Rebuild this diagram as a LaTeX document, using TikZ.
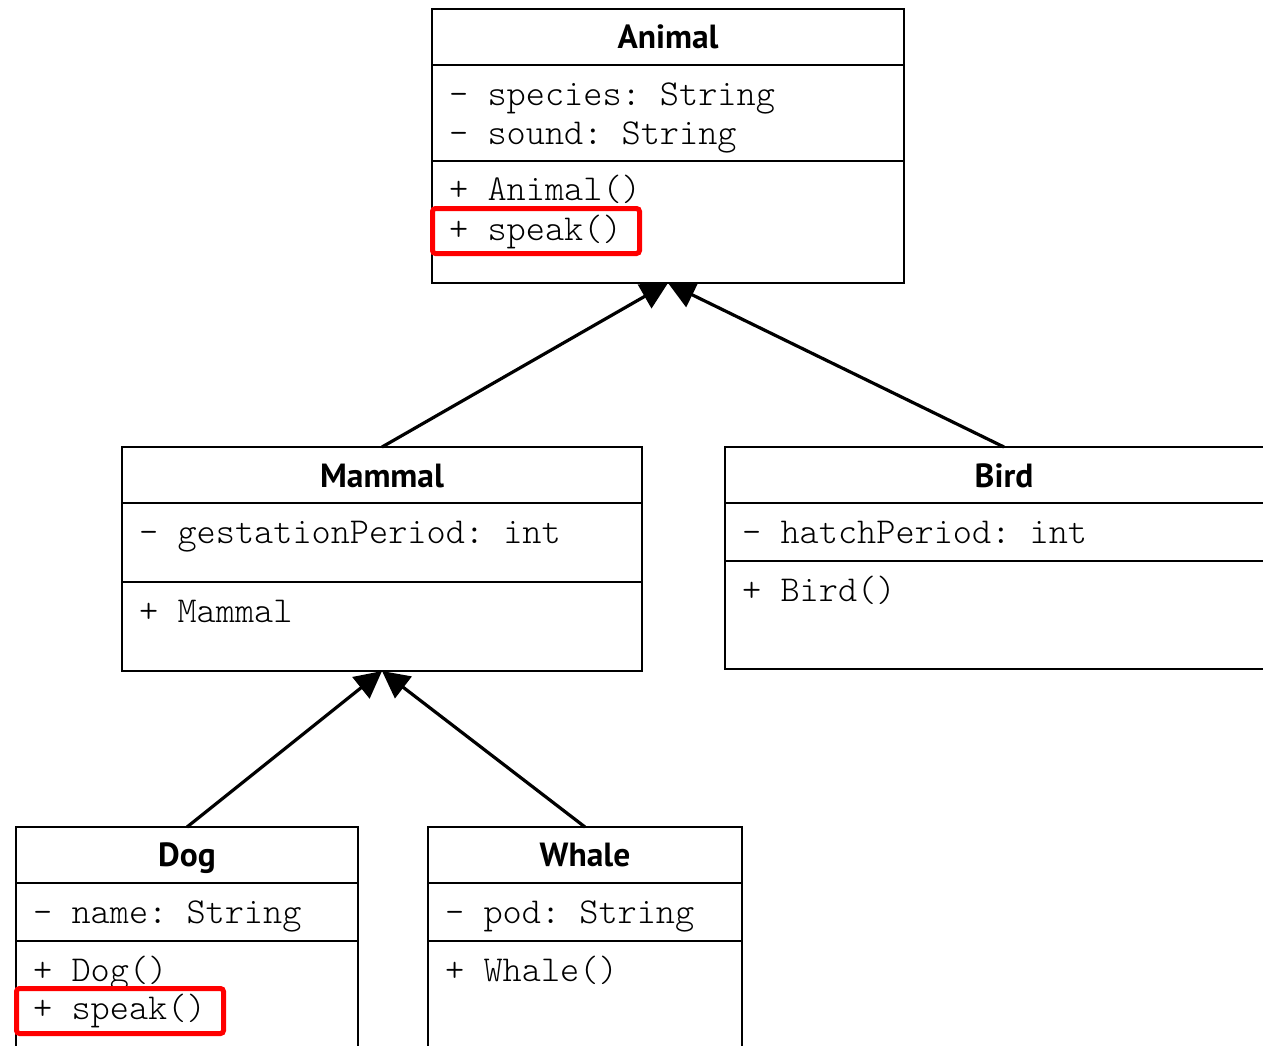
\documentclass[tikz,border=0pt]{standalone}
\usepackage{fontspec}
\setmonofont{Latin Modern Mono Light}
\newfontfamily\titlefont{PT Sans}
\usetikzlibrary{arrows.meta}
\tikzset{
  classbox/.style={draw=black, line width=2.6pt, fill=white, inner sep=0pt, outer sep=0pt, anchor=north west},
  divider/.style={line width=2.6pt},
  classtitle/.style={font=\titlefont\bfseries\fontsize{33.5}{40}\selectfont, anchor=base, inner sep=0pt},
  member/.style={font=\ttfamily\fontsize{36.5}{42}\selectfont, anchor=base west, inner sep=0pt},
  inherit/.style={line width=3.2pt, -{Triangle[length=27pt,width=27pt]}},
  highlight/.style={draw=red, line width=5pt, rounded corners=3pt, inner sep=0pt, outer sep=0pt, anchor=north west},
}
\begin{document}
\begin{tikzpicture}[x=1pt,y=-1pt]
\clip (0,0) rectangle (1263,1045);

% class boxes
\node[classbox, minimum width=472pt, minimum height=274pt] (animal) at (432,9) {};
\node[classbox, minimum width=520pt, minimum height=224pt] (mammal) at (122,447) {};
\node[classbox, minimum width=558pt, minimum height=222pt] (bird) at (725,447) {};
\node[classbox, minimum width=342pt, minimum height=300pt] (dog) at (16,827) {};
\node[classbox, minimum width=314pt, minimum height=300pt] (whale) at (428,827) {};

% compartment dividers
\draw[divider] (animal.west |- 0,65) -- (animal.east |- 0,65);
\draw[divider] (animal.west |- 0,161) -- (animal.east |- 0,161);
\draw[divider] (mammal.west |- 0,503) -- (mammal.east |- 0,503);
\draw[divider] (mammal.west |- 0,582) -- (mammal.east |- 0,582);
\draw[divider] (bird.west |- 0,503) -- (bird.east |- 0,503);
\draw[divider] (bird.west |- 0,561) -- (bird.east |- 0,561);
\draw[divider] (dog.west |- 0,883) -- (dog.east |- 0,883);
\draw[divider] (dog.west |- 0,941) -- (dog.east |- 0,941);
\draw[divider] (whale.west |- 0,883) -- (whale.east |- 0,883);
\draw[divider] (whale.west |- 0,941) -- (whale.east |- 0,941);

% class names
\node[classtitle] (animalname) at (668,48) {Animal};
\node[classtitle] (mammalname) at (382,487) {Mammal};
\node[classtitle] (birdname) at (1004,487) {Bird};
\node[classtitle] (dogname) at (187,866) {Dog};
\node[classtitle] (whalename) at (585,866) {Whale};

% members
\node[member] (a1) at (449,105) {- species: String};
\node[member] (a2) at (449,144) {- sound: String};
\node[member] (a3) at (449,200) {+ Animal()};
\node[member] (a4) at (449,240) {+ speak()};
\node[member] (m1) at (139,543) {- gestationPeriod: int};
\node[member] (m2) at (139,622) {+ Mammal};
\node[member] (b1) at (742,543) {- hatchPeriod: int};
\node[member] (b2) at (742,601) {+ Bird()};
\node[member] (d1) at (33,923) {- name: String};
\node[member] (d2) at (33,981) {+ Dog()};
\node[member] (d3) at (33,1019) {+ speak()};
\node[member] (w1) at (445,923) {- pod: String};
\node[member] (w2) at (445,981) {+ Whale()};

% overridden method marks
\node[highlight, minimum width=207pt, minimum height=45pt] (animalspeak) at (432.5,208.5) {};
\node[highlight, minimum width=207pt, minimum height=45pt] (dogspeak) at (16.5,988.5) {};

% generalisation connectors
\draw[inherit] (mammal.north) -- (animal.south);
\draw[inherit] (bird.north) -- (animal.south);
\draw[inherit] (dog.north) -- (mammal.south);
\draw[inherit] (whale.north) -- (mammal.south);
\end{tikzpicture}
\end{document}
